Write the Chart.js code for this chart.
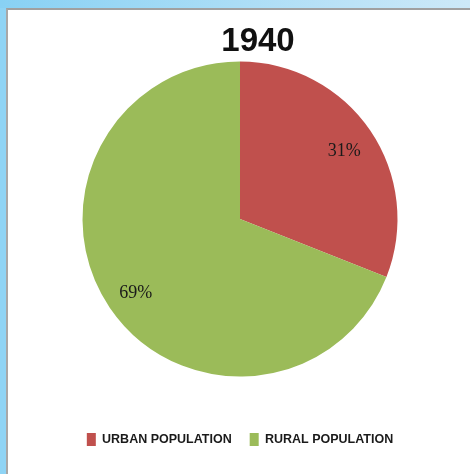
<!DOCTYPE html>
<html>
<head>
<meta charset="utf-8">
<script src="https://cdn.jsdelivr.net/npm/chart.js@4.4.1/dist/chart.umd.min.js"></script>
<style>
html, body { margin: 0; padding: 0; width: 470px; height: 474px; overflow: hidden; background: #fff; }
#bg { position: absolute; left: 0; top: 0; width: 470px; height: 474px; background: #8fd4f5; }
#topstrip { position: absolute; left: 0; top: 0; width: 470px; height: 8px; background: linear-gradient(to right, #88d1f4, #cde9f8); }
#panel { position: absolute; left: 6px; top: 8px; width: 462px; height: 464px; background: #fff; border-left: 2px solid #a8a8a8; border-top: 2px solid #a0a0a0; }
#wrap { position: absolute; left: 0; top: 0; width: 470px; height: 474px; }
</style>
</head>
<body>
<div id="bg"></div>
<div id="topstrip"></div>
<div id="panel"></div>
<div id="wrap"><canvas id="c" width="470" height="474"></canvas></div>
<script>
// ---- data ----
const chartTitle = '1940';
const categories = ['URBAN POPULATION', 'RURAL POPULATION'];
const shares = [31, 69];

// ---- percentage labels drawn inside the slices ----
const pctLabels = {
  id: 'pctLabels',
  afterDatasetsDraw(chart) {
    const ctx = chart.ctx;
    const meta = chart.getDatasetMeta(0);
    ctx.save();
    ctx.font = '18px "Liberation Serif", "Times New Roman", serif';
    ctx.fillStyle = '#1a1a1a';
    ctx.textAlign = 'center';
    ctx.textBaseline = 'middle';
    meta.data.forEach((arc, i) => {
      const p = arc.getProps(['x', 'y', 'startAngle', 'endAngle', 'outerRadius'], true);
      const mid = (p.startAngle + p.endAngle) / 2;
      const r = p.outerRadius * 0.8;
      ctx.fillText(shares[i] + '%', p.x + Math.cos(mid) * r, p.y + Math.sin(mid) * r + 3);
    });
    ctx.restore();
  }
};

// title in the reference sits a little right of the pie centre
const titleShift = {
  id: 'titleShift',
  afterLayout(chart) {
    if (chart.titleBlock) { chart.titleBlock.left += 36; }
  }
};

new Chart(document.getElementById('c'), {
  type: 'pie',
  data: {
    labels: categories,
    datasets: [{
      data: shares,
      backgroundColor: ['#c0504d', '#9bbb59'],
      borderWidth: 0
    }]
  },
  options: {
    responsive: false,
    animation: false,
    layout: { padding: { left: 10, right: 0, top: 0, bottom: 18 } },
    plugins: {
      title: {
        display: true,
        text: chartTitle,
        color: '#111111',
        font: { family: '"Liberation Sans", Arial, sans-serif', size: 33, weight: 'bold', lineHeight: 1.2 },
        padding: { top: 22, bottom: 0 }
      },
      legend: {
        position: 'bottom',
        title: { display: true, text: ' ', font: { size: 12, lineHeight: 1.2 }, padding: { top: 24, bottom: 0 } },
        labels: {
          boxWidth: 9,
          boxHeight: 13,
          padding: 18,
          color: '#1a1a1a',
          font: { family: '"Liberation Sans", Arial, sans-serif', size: 12.5, weight: 'bold' }
        }
      },
      tooltip: { enabled: false }
    }
  },
  plugins: [pctLabels, titleShift]
});
</script>
</body>
</html>
